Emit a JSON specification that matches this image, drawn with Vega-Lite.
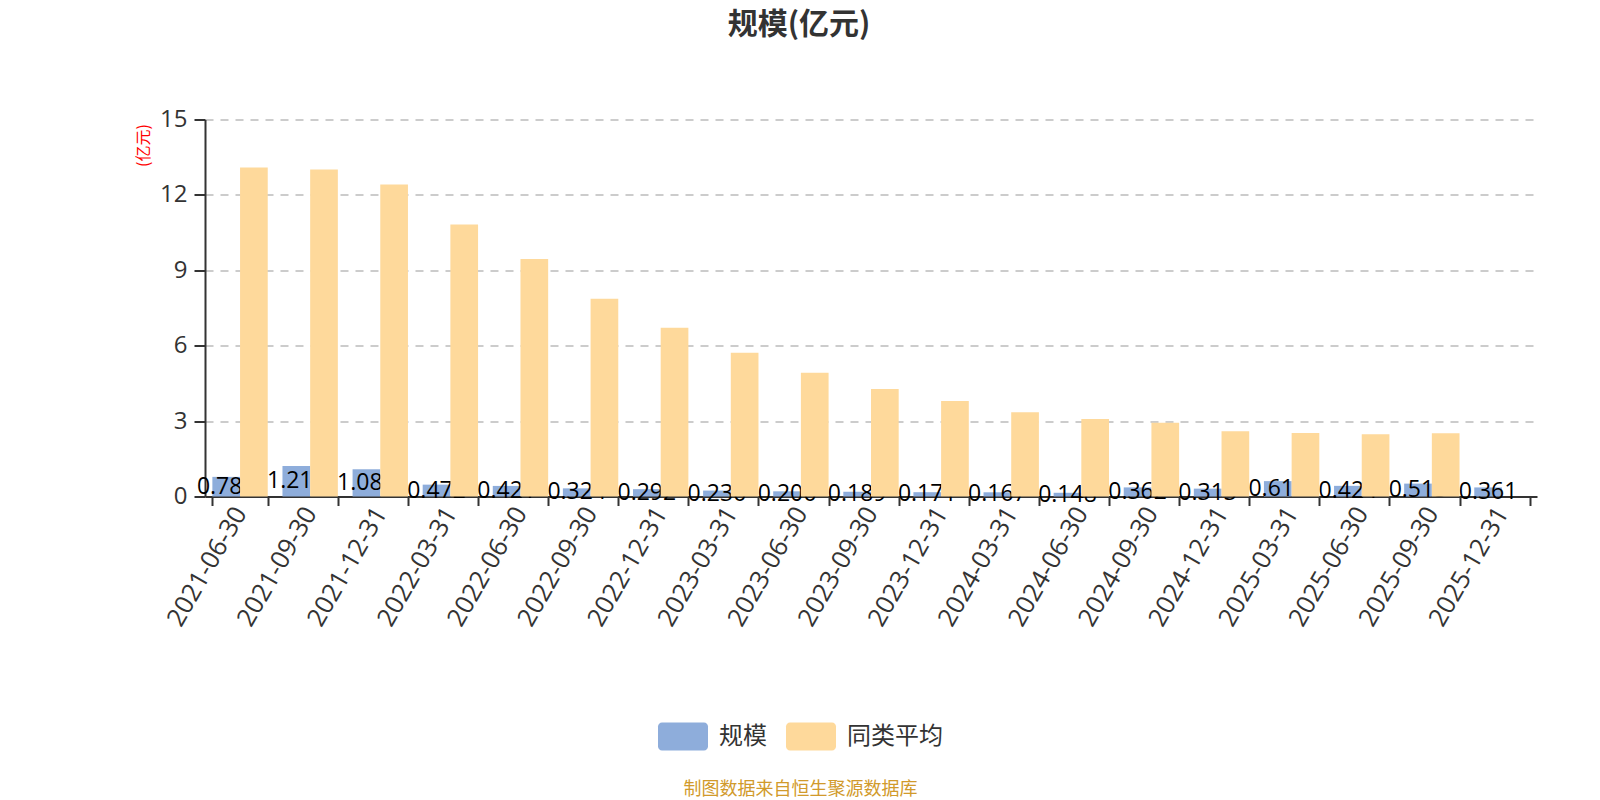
{
  "$schema": "https://vega.github.io/schema/vega-lite/v6.json",
  "autosize": {"type": "none"},
  "padding": {"left": 205, "top": 119.5, "right": 63, "bottom": 303.5},
  "width": 1332,
  "height": 377,
  "background": "#ffffff",
  "title": {
    "text": "规模(亿元)",
    "font": "Noto Sans CJK SC",
    "fontSize": 30,
    "fontWeight": "bold",
    "color": "#333333",
    "anchor": "middle",
    "frame": "group",
    "dx": -72,
    "offset": 68
  },
  "data": {
    "values": [
      {"date": "2021-06-30", "scale": 0.781, "peer": 13.09},
      {"date": "2021-09-30", "scale": 1.213, "peer": 13.01},
      {"date": "2021-12-31", "scale": 1.084, "peer": 12.41},
      {"date": "2022-03-31", "scale": 0.472, "peer": 10.82},
      {"date": "2022-06-30", "scale": 0.421, "peer": 9.45},
      {"date": "2022-09-30", "scale": 0.324, "peer": 7.87},
      {"date": "2022-12-31", "scale": 0.292, "peer": 6.71},
      {"date": "2023-03-31", "scale": 0.236, "peer": 5.72},
      {"date": "2023-06-30", "scale": 0.206, "peer": 4.92},
      {"date": "2023-09-30", "scale": 0.189, "peer": 4.28},
      {"date": "2023-12-31", "scale": 0.171, "peer": 3.80},
      {"date": "2024-03-31", "scale": 0.167, "peer": 3.35},
      {"date": "2024-06-30", "scale": 0.148, "peer": 3.08},
      {"date": "2024-09-30", "scale": 0.362, "peer": 2.93},
      {"date": "2024-12-31", "scale": 0.313, "peer": 2.60},
      {"date": "2025-03-31", "scale": 0.612, "peer": 2.53},
      {"date": "2025-06-30", "scale": 0.424, "peer": 2.48},
      {"date": "2025-09-30", "scale": 0.513, "peer": 2.52},
      {"date": "2025-12-31", "scale": 0.361, "peer": null}
    ]
  },
  "encoding": {
    "x": {
      "field": "date",
      "type": "nominal",
      "sort": null,
      "scale": {"paddingInner": 0.21, "paddingOuter": 0.105},
      "axis": {
        "title": "制图数据来自恒生聚源数据库",
        "titleColor": "#d19a2b",
        "titleFont": "Noto Sans CJK SC",
        "titleFontSize": 18,
        "titleFontWeight": "normal",
        "titleX": 595,
        "titleY": 293,
        "titleAlign": "center",
        "titleBaseline": "middle",
        "titleAngle": 0,
        "labelAngle": -60,
        "labelAlign": "right",
        "labelBaseline": "middle",
        "labelFont": "Open Sans",
        "labelFontSize": 25.5,
        "labelColor": "#333333",
        "labelPadding": 3,
        "labelOverlap": false,
        "domainColor": "#333333",
        "domainWidth": 2,
        "tickColor": "#333333",
        "tickWidth": 2,
        "tickSize": 9,
        "tickBand": "extent",
        "grid": false
      }
    }
  },
  "layer": [
    {
      "mark": {"type": "bar"},
      "encoding": {
        "y": {
          "field": "scale",
          "type": "quantitative",
          "scale": {"domain": [0, 15]},
          "axis": {
            "values": [0, 3, 6, 9, 12, 15],
            "title": "(亿元)",
            "titleColor": "#ff0000",
            "titleFont": "Noto Sans CJK SC",
            "titleFontSize": 16,
            "titleFontWeight": "normal",
            "titleAngle": -90,
            "titleX": -62,
            "titleY": 25.5,
            "titleAlign": "center",
            "titleBaseline": "middle",
            "labelFont": "Open Sans",
            "labelFontSize": 24,
            "labelColor": "#333333",
            "labelPadding": 7,
            "domainColor": "#333333",
            "domainWidth": 2,
            "tickColor": "#333333",
            "tickWidth": 2,
            "tickSize": 11,
            "grid": true,
            "gridColor": "#cccccc",
            "gridDash": [8, 7],
            "gridWidth": 2
          }
        },
        "xOffset": {
          "datum": "规模",
          "scale": {"domain": ["规模", "同类平均"], "paddingInner": 0, "paddingOuter": 0}
        },
        "color": {
          "datum": "规模",
          "scale": {"domain": ["规模", "同类平均"], "range": ["#8eaddb", "#fed99b"]},
          "legend": {
            "title": null,
            "orient": "none",
            "direction": "horizontal",
            "legendX": 453,
            "legendY": 592,
            "padding": 0,
            "symbolType": "M-0.84,-0.56 H0.84 A0.16,0.16 0 0 1 1,-0.4 V0.4 A0.16,0.16 0 0 1 0.84,0.56 H-0.84 A0.16,0.16 0 0 1 -1,0.4 V-0.4 A0.16,0.16 0 0 1 -0.84,-0.56 Z",
            "symbolSize": 2500,
            "symbolStrokeWidth": 0,
            "symbolOpacity": 1,
            "labelFont": "Noto Sans CJK SC",
            "labelFontSize": 24,
            "labelColor": "#333333",
            "labelOffset": 11,
            "columnPadding": 19
          }
        }
      }
    },
    {
      "mark": {"type": "text", "font": "Open Sans", "fontSize": 23, "color": "#000000", "align": "center", "baseline": "middle"},
      "encoding": {
        "y": {"field": "scale", "type": "quantitative", "scale": {"domain": [0, 30]}, "axis": null},
        "xOffset": {"datum": "规模"},
        "text": {"field": "scale", "type": "quantitative"}
      }
    },
    {
      "mark": {"type": "bar"},
      "encoding": {
        "y": {"field": "peer", "type": "quantitative", "scale": {"domain": [0, 15]}, "axis": null},
        "xOffset": {"datum": "同类平均"},
        "color": {"datum": "同类平均"}
      }
    }
  ],
  "resolve": {"scale": {"y": "independent"}},
  "config": {"view": {"stroke": null}}
}
